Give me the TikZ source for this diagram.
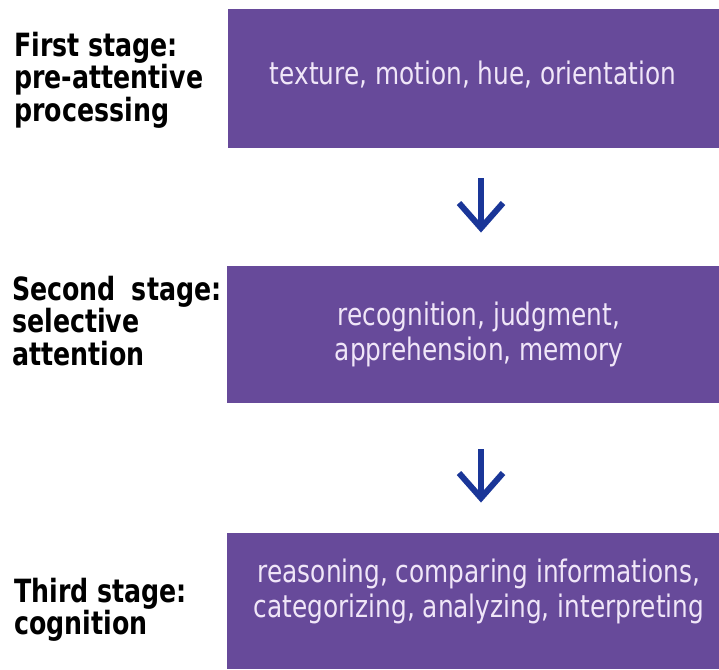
\documentclass[tikz,border=0pt]{standalone}
\usepackage{fontspec}
\setmainfont{DejaVu Sans}
\newfontfamily\boxfont[FakeStretch=0.80]{DejaVu Sans}
\newfontfamily\labelfont[FakeStretch=0.79]{DejaVu Sans}
\usetikzlibrary{calc}
\definecolor{boxpurple}{RGB}{103,74,154}
\definecolor{boxtextcol}{RGB}{240,230,248}
\definecolor{arrowblue}{RGB}{26,54,152}
\tikzset{
  stagebox/.style={fill=boxpurple, draw=none, inner sep=0pt},
  boxtext/.style={text=boxtextcol, align=center, inner sep=0pt, font=\boxfont\fontsize{31}{35}\selectfont},
  stagelabel/.style={text=black, align=left, anchor=west, inner sep=0pt, font=\labelfont\bfseries\fontsize{32}{32.5}\selectfont},
  flowarrow/.style={draw=arrowblue, line width=6pt, miter limit=10}
}
\begin{document}
\begin{tikzpicture}[x=1pt,y=-1pt]
\useasboundingbox (0,0) rectangle (719,669);
% boxes
\node[stagebox, minimum width=491pt, minimum height=139pt] (b1) at (473.5,78.5) {};
\node[stagebox, minimum width=492pt, minimum height=137pt] (b2) at (473,334.5) {};
\node[stagebox, minimum width=492pt, minimum height=136pt] (b3) at (473,601) {};
% box texts
\node[boxtext] (t1) at (473,75) {texture, motion, hue, orientation};
\node[boxtext] (t2) at (479,334) {recognition, judgment,\\apprehension, memory};
\node[boxtext] (t3) at (479,591) {reasoning, comparing informations,\\categorizing, analyzing, interpreting};
% left labels
\node[stagelabel] (l1) at (14,80) {First stage:\\pre-attentive\\processing};
\node[stagelabel] (l2) at (12,321) {Second\hspace{16pt}stage:\\selective\\attention};
\node[stagelabel] (l3) at (14,610) {Third stage:\\cognition};
% arrows
\coordinate (a1s) at (481,178);
\coordinate (a1e) at (481,228);
\coordinate (a2s) at (481,449);
\coordinate (a2e) at (481,498);
\draw[flowarrow] (a1s) -- (a1e);
\draw[flowarrow, line join=miter] ($(a1e)+(-22,-25)$) -- (a1e) -- ($(a1e)+(22,-25)$);
\draw[flowarrow] (a2s) -- (a2e);
\draw[flowarrow, line join=miter] ($(a2e)+(-22,-25)$) -- (a2e) -- ($(a2e)+(22,-25)$);
\end{tikzpicture}
\end{document}
